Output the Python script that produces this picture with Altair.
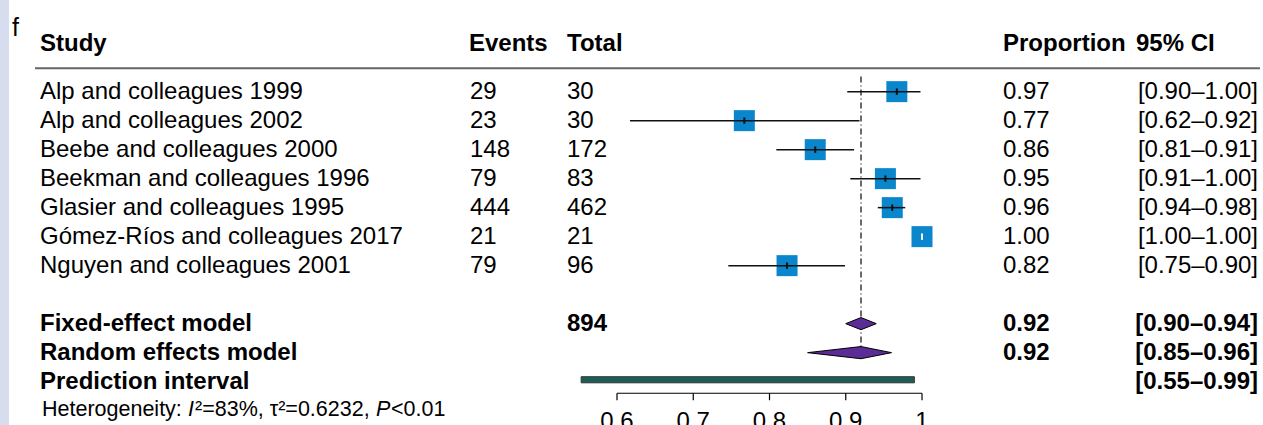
import altair as alt
import pandas as pd

# ---- study-level data -------------------------------------------------------
studies = [
    "Alp and colleagues 1999",
    "Alp and colleagues 2002",
    "Beebe and colleagues 2000",
    "Beekman and colleagues 1996",
    "Glasier and colleagues 1995",
    "Gómez-Ríos and colleagues 2017",
    "Nguyen and colleagues 2001",
]
events = [29, 23, 148, 79, 444, 21, 79]
totals = [30, 30, 172, 83, 462, 21, 96]
proportion = [0.967, 0.767, 0.860, 0.952, 0.961, 1.000, 0.823]
ci_low = [0.902, 0.617, 0.809, 0.906, 0.942, 1.000, 0.746]
ci_high = [0.998, 0.918, 0.911, 0.998, 0.978, 1.000, 0.899]

# ---- pooled estimates ---------------------------------------------------------
summary_labels = ["Fixed-effect model", "Random effects model"]
summary_est = [0.92, 0.92]
summary_low = [0.90, 0.85]
summary_high = [0.94, 0.96]
total_patients = 894
prediction_low = 0.553
prediction_high = 0.99
heterogeneity = ["Heterogeneity: ", "I", "²=83%, τ²=0.6232, ", "P", "<0.01"]

axis_ticks = [0.6, 0.7, 0.8, 0.9, 1.0]

# ---- layout --------------------------------------------------------------------
W, H = 1263, 425
FONT = "Liberation Sans"
FS = 24
BLUE = "#0a86cc"
PURPLE = "#5b2c95"
TEAL = "#1b5e58"

study_rows = list(range(1, len(studies) + 1))
summary_rows = [9, 10]
pred_row = 11
het_row = 11.97
header_row = -0.65
axis_row = 11.40
ticklabel_row = 12.40

xscale = alt.Scale(domain=[-0.20918, 1.44721], range=[0, W], nice=False, zero=False)
yscale = alt.Scale(domain=[-2.16, 12.495], range=[0, H], nice=False, zero=False)


def X(field):
    return alt.X(field, type="quantitative", scale=xscale, axis=None)


def Y(field):
    return alt.Y(field, type="quantitative", scale=yscale, axis=None)


def Y2(field):
    return alt.Y2(field)


one = pd.DataFrame({"d": [0]})

df = pd.DataFrame({
    "row": study_rows,
    "study": studies,
    "events": [str(e) for e in events],
    "total": [str(t) for t in totals],
    "est": proportion,
    "lo": ci_low,
    "hi": ci_high,
})
df["prop_label"] = [f"{v:.2f}" for v in proportion]
df["ci_label"] = [f"[{a:.2f}–{b:.2f}]" for a, b in zip(ci_low, ci_high)]
df["tick_lo"] = df["row"] - 0.11
df["tick_hi"] = df["row"] + 0.11

sm = pd.DataFrame({
    "row": summary_rows,
    "label": summary_labels,
    "est": summary_est,
    "lo": summary_low,
    "hi": summary_high,
})
sm["prop_label"] = [f"{v:.2f}" for v in summary_est]
sm["ci_label"] = [f"[{a:.2f}–{b:.2f}]" for a, b in zip(summary_low, summary_high)]

# diamond outlines: left tip, top/bottom at the estimate, right tip
half = 0.21
dia_rows = []
for r, e, lo, hi in zip(summary_rows, summary_est, summary_low, summary_high):
    dia_rows += [
        {"model": r, "x": lo, "y": r, "y2": r},
        {"model": r, "x": e, "y": r - half, "y2": r + half},
        {"model": r, "x": hi, "y": r, "y2": r},
    ]
dia = pd.DataFrame(dia_rows)

pred = pd.DataFrame({"lo": [prediction_low], "hi": [prediction_high],
                     "y": [pred_row - 0.17], "y2": [pred_row + 0.04],
                     "label": [f"[{prediction_low:.2f}–{prediction_high:.2f}]"], "row": [pred_row]})

ticks = pd.DataFrame({"t": axis_ticks})
ticks["label"] = [f"{t:g}" for t in axis_ticks]
ticks["y"] = axis_row
ticks["y2"] = axis_row + 7 / 29
ticks["ly"] = ticklabel_row


def text_layer(data, field, x, row_field="row", align="left", bold=False, italic=False, size=FS):
    kw = dict(align=align, baseline="middle", font=FONT, fontSize=size, color="black")
    if bold:
        kw["fontWeight"] = "bold"
    if italic:
        kw["fontStyle"] = "italic"
    return alt.Chart(data).mark_text(**kw).encode(
        x=alt.value(x), y=Y(row_field), text=alt.Text(field, type="nominal")
    )


def label(text, x, row, **kw):
    d = pd.DataFrame({"row": [row], "txt": [text]})
    return text_layer(d, "txt", x, **kw)


# left margin strip
strip = alt.Chart(one).mark_rect(color="#d6ddef").encode(
    x=alt.value(0), x2=alt.value(9), y=alt.value(0), y2=alt.value(H)
)

# header
header = [
    label("f", 12, -1.18, size=25),
    label("Study", 40, header_row, bold=True),
    label("Events", 469, header_row, bold=True),
    label("Total", 567, header_row, bold=True),
    label("Proportion", 1003, header_row, bold=True),
    label("95% CI", 1136, header_row, bold=True),
]
header_rule = alt.Chart(pd.DataFrame({"y": [0.19]})).mark_rule(color="#666666", strokeWidth=2).encode(
    x=alt.value(35), x2=alt.value(1260), y=Y("y")
)

# reference line at the pooled estimate
ref = alt.Chart(pd.DataFrame({"x": [summary_est[0]], "y": [0.48], "y2": [9.78]})).mark_rule(
    color="#3a3a3a", strokeWidth=1.5, strokeDash=[6, 3, 1, 3]
).encode(x=X("x"), y=Y("y"), y2=Y2("y2"))

# study squares with confidence intervals
squares = alt.Chart(df).mark_square(size=441, color=BLUE, opacity=1).encode(x=X("est"), y=Y("row"))
ci = alt.Chart(df).mark_rule(color="#111111", strokeWidth=1.5).encode(
    x=X("lo"), x2=alt.X2("hi"), y=Y("row")
)
est_tick = alt.Chart(df).mark_rule(strokeWidth=2).encode(
    x=X("est"), y=Y("tick_lo"), y2=Y2("tick_hi"),
    color=alt.condition("datum.lo == datum.hi", alt.value("white"), alt.value("#111111")),
)

# pooled diamonds
diamonds = alt.Chart(dia).mark_area(
    orient="vertical", color=PURPLE, stroke="black", strokeWidth=1, opacity=1
).encode(x=X("x"), y=Y("y"), y2=Y2("y2"), detail="model:N")

# prediction interval bar
pred_bar = alt.Chart(pred).mark_rect(color=TEAL, stroke="#333333", strokeWidth=1).encode(
    x=X("lo"), x2=alt.X2("hi"), y=Y("y"), y2=Y2("y2")
)

# bottom axis
axis_line = alt.Chart(pd.DataFrame({"a": [axis_ticks[0]], "b": [axis_ticks[-1]], "y": [axis_row]})).mark_rule(
    color="black", strokeWidth=1.2
).encode(x=X("a"), x2=alt.X2("b"), y=Y("y"))
axis_ticks_m = alt.Chart(ticks).mark_rule(color="black", strokeWidth=1.2).encode(
    x=X("t"), y=Y("y"), y2=Y2("y2")
)
axis_labels = alt.Chart(ticks).mark_text(
    align="center", baseline="middle", font=FONT, fontSize=FS, color="black"
).encode(x=X("t"), y=Y("ly"), text="label:N")

# table columns
cols = [
    text_layer(df, "study", 40),
    text_layer(df, "events", 470),
    text_layer(df, "total", 567),
    text_layer(df, "prop_label", 1003),
    text_layer(df, "ci_label", 1258, align="right"),
    text_layer(sm, "label", 40, bold=True),
    text_layer(sm, "prop_label", 1003, bold=True),
    text_layer(sm, "ci_label", 1258, align="right", bold=True),
    label(str(total_patients), 567, summary_rows[0], bold=True),
    label("Prediction interval", 40, pred_row, bold=True),
    text_layer(pred, "label", 1258, align="right", bold=True),
]

# heterogeneity line with italic statistic symbols
HS = 21.5
het_x = [42, 188, 195, 376, 391]
het = [
    label(seg, x, het_row, size=HS, italic=(seg in ("I", "P")))
    for seg, x in zip(heterogeneity, het_x)
]

chart = alt.layer(
    strip, header_rule, ref, squares, ci, est_tick, diamonds, pred_bar,
    axis_line, axis_ticks_m, axis_labels, *header, *cols, *het
).properties(
    width=W, height=H, padding=0, autosize=alt.AutoSizeParams(type="none"), background="white"
).configure_view(stroke=None)

chart.save("out.html", embed_options={"renderer": "svg", "actions": False})
